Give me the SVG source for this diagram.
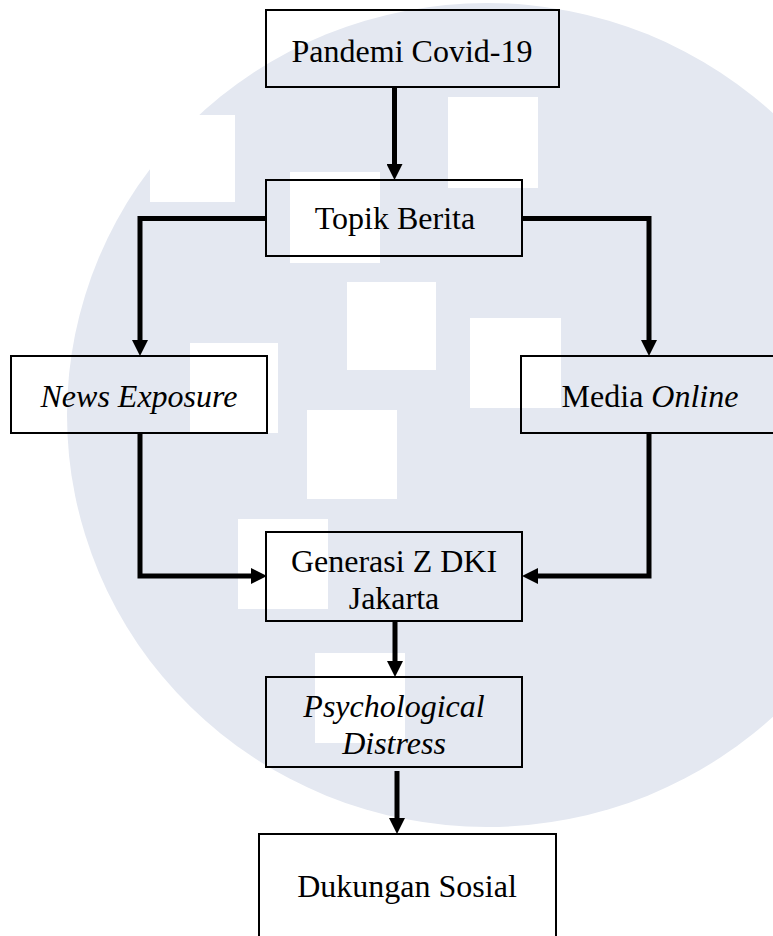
<svg xmlns="http://www.w3.org/2000/svg" width="773" height="936" viewBox="0 0 773 936">
<style>
.box{fill:none;stroke:#000;stroke-width:2}
.t{font-family:"Liberation Serif","Times New Roman",serif;font-size:32px;fill:#000;text-anchor:middle}
.i{font-style:italic}
.c{fill:none;stroke:#000;stroke-width:5;stroke-linejoin:miter}
.wm{fill:#fff}
</style>
<defs>
<marker id="ah" viewBox="0 0 16 16" refX="0" refY="8" markerWidth="16" markerHeight="16" markerUnits="userSpaceOnUse" orient="auto">
<path d="M0,0 L16,8 L0,16 z" fill="#000"/>
</marker>
</defs>
<rect width="773" height="936" fill="#fff"/>
<g id="watermark">
<ellipse cx="487" cy="415" rx="420" ry="412" fill="#e4e8f1"/>
<rect class="wm" x="150" y="115" width="85" height="87"/>
<rect class="wm" x="448" y="97" width="90" height="91"/>
<rect class="wm" x="290" y="172" width="90" height="91"/>
<rect class="wm" x="347" y="282" width="89" height="88"/>
<rect class="wm" x="470" y="318" width="91" height="90"/>
<rect class="wm" x="190" y="343" width="88" height="90"/>
<rect class="wm" x="307" y="410" width="90" height="89"/>
<rect class="wm" x="238" y="519" width="90" height="90"/>
<rect class="wm" x="315" y="653" width="90" height="90"/>
</g>
<g id="connectors">
<line class="c" x1="394.5" y1="87" x2="394.5" y2="164" marker-end="url(#ah)"/>
<polyline class="c" points="266,218.5 140,218.5 140,340" marker-end="url(#ah)"/>
<polyline class="c" points="522,218.5 649,218.5 649,340" marker-end="url(#ah)"/>
<polyline class="c" points="140,433 140,576 251,576" marker-end="url(#ah)"/>
<polyline class="c" points="649,433 649,576 538,576" marker-end="url(#ah)"/>
<line class="c" x1="395" y1="621" x2="395" y2="661" marker-end="url(#ah)"/>
<line class="c" x1="397" y1="771" x2="397" y2="818" marker-end="url(#ah)"/>
</g>
<g id="node-pandemi">
<rect class="box" x="266" y="10" width="293" height="77"/>
<text class="t" x="412" y="62">Pandemi Covid-19</text>
</g>
<g id="node-topik">
<rect class="box" x="266" y="180" width="256" height="76"/>
<text class="t" x="395" y="229">Topik Berita</text>
</g>
<g id="node-news">
<rect class="box" x="11" y="356" width="256" height="77"/>
<text class="t i" x="139" y="407">News Exposure</text>
</g>
<g id="node-media">
<rect class="box" x="521" y="356" width="258" height="77"/>
<text class="t" x="650" y="407">Media <tspan class="i">Online</tspan></text>
</g>
<g id="node-generasi">
<rect class="box" x="266" y="532" width="256" height="89"/>
<text class="t" x="394" y="572">Generasi Z DKI</text>
<text class="t" x="394" y="609">Jakarta</text>
</g>
<g id="node-psych">
<rect class="box" x="266" y="677" width="256" height="90"/>
<text class="t i" x="394" y="717">Psychological</text>
<text class="t i" x="394" y="754">Distress</text>
</g>
<g id="node-dukungan">
<rect class="box" x="259" y="834" width="297" height="110"/>
<text class="t" x="407" y="897">Dukungan Sosial</text>
</g>
</svg>
